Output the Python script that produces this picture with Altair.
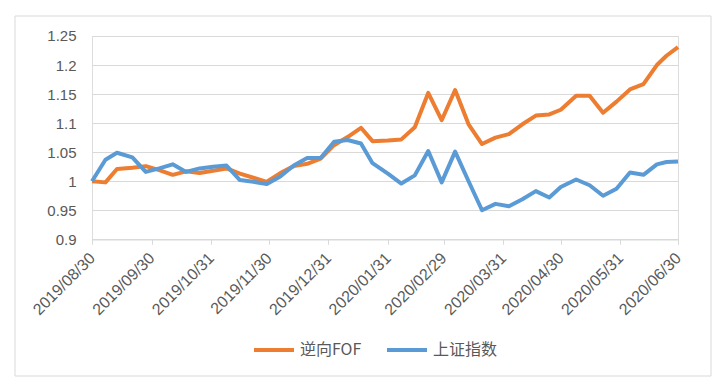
import altair as alt
import pandas as pd

dates = [
    "2019-08-30", "2019-09-06", "2019-09-12", "2019-09-20", "2019-09-27",
    "2019-10-04", "2019-10-11", "2019-10-18", "2019-10-25", "2019-11-01",
    "2019-11-08", "2019-11-15", "2019-11-22", "2019-11-29", "2019-12-06",
    "2019-12-13", "2019-12-20", "2019-12-27", "2020-01-03", "2020-01-10",
    "2020-01-17", "2020-01-23", "2020-01-31", "2020-02-07", "2020-02-14",
    "2020-02-21", "2020-02-28", "2020-03-06", "2020-03-13", "2020-03-20",
    "2020-03-27", "2020-04-03", "2020-04-10", "2020-04-17", "2020-04-24",
    "2020-04-30", "2020-05-08", "2020-05-15", "2020-05-22", "2020-05-29",
    "2020-06-05", "2020-06-12", "2020-06-19", "2020-06-24", "2020-06-30",
]

fof = [
    1.000, 0.998, 1.021, 1.023, 1.026, 1.019, 1.011, 1.017, 1.014, 1.018,
    1.022, 1.013, 1.006, 0.999, 1.014, 1.026, 1.030, 1.039, 1.062, 1.076,
    1.092, 1.069, 1.070, 1.072, 1.093, 1.152, 1.105, 1.157, 1.098, 1.064,
    1.075, 1.081, 1.098, 1.113, 1.115, 1.123, 1.147, 1.147, 1.118, 1.137,
    1.158, 1.167, 1.200, 1.216, 1.231,
]

sh_index = [
    1.000, 1.037, 1.049, 1.041, 1.016, 1.022, 1.029, 1.016, 1.022, 1.025,
    1.027, 1.002, 0.999, 0.995, 1.008, 1.027, 1.040, 1.040, 1.068, 1.071,
    1.065, 1.031, 1.013, 0.996, 1.010, 1.052, 0.998, 1.051, 1.000, 0.950,
    0.961, 0.957, 0.969, 0.983, 0.972, 0.990, 1.003, 0.993, 0.975, 0.987,
    1.015, 1.011, 1.029, 1.033, 1.034,
]

series_names = ["逆向FOF", "上证指数"]
series_colors = ["#ED7D31", "#5B9BD5"]

tick_dates = [
    "2019-08-30", "2019-09-30", "2019-10-31", "2019-11-30", "2019-12-31",
    "2020-01-31", "2020-02-29", "2020-03-31", "2020-04-30", "2020-05-31",
    "2020-06-30",
]
y_ticks = [0.9, 0.95, 1.0, 1.05, 1.1, 1.15, 1.2, 1.25]

df = pd.DataFrame({
    "date": dates + dates,
    "value": fof + sh_index,
    "series": [series_names[0]] * len(dates) + [series_names[1]] * len(dates),
})


def dt(s):
    y, m, d = map(int, s.split("-"))
    return alt.DateTime(year=y, month=m, date=d, utc=True)


LABEL_COLOR = "#595959"
GRID = "#D9D9D9"
NUM_FONT = "Liberation Sans"
CJK_FONT = "Noto Sans CJK SC"

x_enc = alt.X(
    "date:T",
    title=None,
    scale=alt.Scale(type="utc", domain=[dt(tick_dates[0]), dt(tick_dates[-1])], nice=False),
    axis=alt.Axis(
        values=[dt(t) for t in tick_dates],
        labelExpr="utcFormat(datum.value, '%Y/%m/%d')",
        labelAngle=-45,
        labelAlign="right",
        labelBaseline="middle",
        labelPadding=11,
        labelFont=NUM_FONT,
        labelFontSize=16,
        labelColor=LABEL_COLOR,
        domainColor=GRID,
        tickColor=GRID,
        tickSize=5,
        grid=False,
        labelOverlap=False,
        labelFlush=False,
    ),
)

y_enc = alt.Y(
    "value:Q",
    title=None,
    scale=alt.Scale(domain=[0.9, 1.25], nice=False, zero=False),
    axis=alt.Axis(
        values=y_ticks,
        format="~g",
        domain=False,
        ticks=False,
        grid=True,
        gridColor=GRID,
        gridWidth=1,
        labelPadding=16,
        labelFont=NUM_FONT,
        labelFontSize=15,
        labelColor=LABEL_COLOR,
        labelOverlap=False,
        labelFlush=False,
    ),
)

lines = alt.Chart(df).mark_line(strokeWidth=4, strokeJoin="round").encode(
    x=x_enc,
    y=y_enc,
    color=alt.Color(
        "series:N",
        scale=alt.Scale(domain=series_names, range=series_colors),
        legend=alt.Legend(
            title=None,
            orient="none",
            direction="horizontal",
            legendX=160,
            legendY=292,
            symbolType="stroke",
            symbolStrokeWidth=4,
            symbolSize=1600,
            labelFont=CJK_FONT,
            labelFontSize=16,
            labelColor=LABEL_COLOR,
            columnPadding=17,
            labelOffset=4,
        ),
    ),
)

border = alt.Chart(pd.DataFrame({"k": [0]})).mark_rect(
    fillOpacity=0, stroke=GRID, strokeWidth=1
).encode(
    x=alt.value(-77), x2=alt.value(619), y=alt.value(-20), y2=alt.value(340)
)

chart = alt.layer(border, lines).properties(
    width=586,
    height=203.3,
    autosize=alt.AutoSizeParams(type="none"),
    padding={"left": 84, "top": 28, "right": 35, "bottom": 139},
).configure_view(strokeWidth=0).configure(background="white")

chart.save("out.html", embed_options={"renderer": "svg", "actions": False})
